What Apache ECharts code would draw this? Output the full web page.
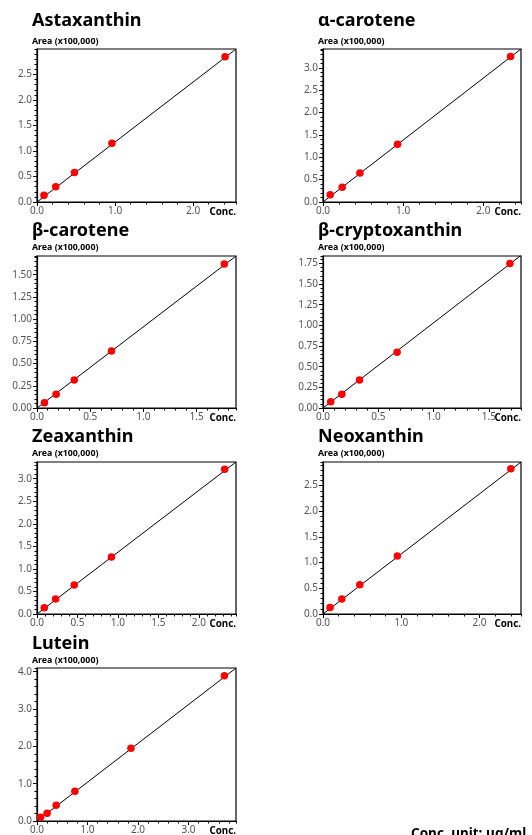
<!DOCTYPE html>
<html><head><meta charset="utf-8">
<script src="https://cdn.jsdelivr.net/npm/echarts@6/dist/echarts.min.js"></script>
<style>html,body{margin:0;padding:0;background:#fff}#c{width:532px;height:835px}</style>
</head><body><div id="c"></div>
<script>
// ---- data ----
const compounds = ['Astaxanthin', 'α-carotene', 'β-carotene', 'β-cryptoxanthin', 'Zeaxanthin', 'Neoxanthin', 'Lutein'];

const concAstaxanthin = [0.09, 0.24, 0.48, 0.96, 2.41];
const areaAstaxanthin = [0.13, 0.30, 0.58, 1.15, 2.85];

const concAlphaCarotene = [0.09, 0.24, 0.46, 0.93, 2.34];
const areaAlphaCarotene = [0.16, 0.33, 0.65, 1.29, 3.25];

const concBetaCarotene = [0.07, 0.18, 0.35, 0.70, 1.76];
const areaBetaCarotene = [0.06, 0.155, 0.315, 0.64, 1.62];

const concBetaCryptoxanthin = [0.07, 0.17, 0.33, 0.67, 1.69];
const areaBetaCryptoxanthin = [0.075, 0.165, 0.34, 0.675, 1.75];

const concZeaxanthin = [0.09, 0.23, 0.46, 0.92, 2.32];
const areaZeaxanthin = [0.14, 0.33, 0.645, 1.265, 3.21];

const concNeoxanthin = [0.09, 0.24, 0.47, 0.95, 2.40];
const areaNeoxanthin = [0.125, 0.29, 0.57, 1.13, 2.83];

const concLutein = [0.07, 0.20, 0.38, 0.75, 1.86, 3.71];
const areaLutein = [0.10, 0.21, 0.42, 0.80, 1.95, 3.89];

const concValues = [concAstaxanthin, concAlphaCarotene, concBetaCarotene, concBetaCryptoxanthin, concZeaxanthin, concNeoxanthin, concLutein];
const areaValues = [areaAstaxanthin, areaAlphaCarotene, areaBetaCarotene, areaBetaCryptoxanthin, areaZeaxanthin, areaNeoxanthin, areaLutein];

// calibration line slopes (area per conc.)
const fitSlopes = [1.176, 1.385, 0.914, 1.032, 1.37, 1.17, 1.04];

// axis ranges and tick steps
const xMaxes = [2.55, 2.47, 1.87, 1.79, 2.46, 2.53, 3.94];
const yMaxes = [3.0, 3.42, 1.71, 1.84, 3.37, 2.96, 4.1];
const xMajorSteps = [1, 1, 0.5, 0.5, 0.5, 1, 1];
const xMinorSteps = [0.2, 0.2, 0.1, 0.1, 0.1, 0.2, 0.2];
const yMajorSteps = [0.5, 0.5, 0.25, 0.25, 0.5, 0.5, 1];
const yMinorSteps = [0.1, 0.1, 0.05, 0.05, 0.1, 0.1, 0.2];
const yDecimals = [1, 1, 2, 2, 1, 1, 1];

const yAxisTitle = 'Area (x100,000)';
const xAxisTitle = 'Conc.';
const unitNote = 'Conc. unit: μg/ml';

// ---- layout ----
const colLeft = [37, 323];
const colWidth = [199, 198];
const rowTop = [49, 256, 462, 668];
const rowHeight = [153, 152, 152, 153];
const titleBase = [27.5, 237.5, 443.5, 650];
const areaBase = [44.8, 250.2, 456.7, 663.3];
const titleX = [32, 318];

const FONT = "'Noto Sans', 'Open Sans', sans-serif";
const grids = [], xAxes = [], yAxes = [], series = [], graphics = [];

function txt(text, x, baseline, size, weight, align, color) {
  graphics.push({
    type: 'text', x: x, y: baseline - 0.36 * size, silent: true,
    style: { text: text, fill: color || '#000', font: weight + ' ' + size + 'px ' + FONT, align: align || 'left', verticalAlign: 'middle' }
  });
}

compounds.forEach(function (name, i) {
  const col = i % 2, row = Math.floor(i / 2);
  const L = colLeft[col], T = rowTop[row], W = colWidth[col], H = rowHeight[row];
  grids.push({ left: L, top: T, width: W, height: H, show: true, borderColor: '#000', borderWidth: 1.2, backgroundColor: 'transparent', containLabel: false, outerBoundsMode: 'none' });
  const labelStyle = { color: '#555', fontSize: 10, fontFamily: FONT };
  xAxes.push({
    type: 'value', gridIndex: i, min: 0, max: xMaxes[i], interval: xMajorSteps[i], position: 'bottom',
    axisLine: { show: true, onZero: false, lineStyle: { color: '#000', width: 1.2 } },
    axisTick: { show: true, length: 4, lineStyle: { color: '#000', width: 1 } },
    axisLabel: Object.assign({ showMaxLabel: false, margin: 4, formatter: function (v) { return v.toFixed(1); } }, labelStyle),
    splitLine: { show: false }
  });
  xAxes.push({
    type: 'value', gridIndex: i, min: 0, max: xMaxes[i], interval: xMinorSteps[i], position: 'bottom',
    axisLine: { show: false, onZero: false }, axisTick: { show: true, length: 2.5, lineStyle: { color: '#000', width: 1 } },
    axisLabel: { show: false }, splitLine: { show: false }
  });
  yAxes.push({
    type: 'value', gridIndex: i, min: 0, max: yMaxes[i], interval: yMajorSteps[i], position: 'left',
    axisLine: { show: true, onZero: false, lineStyle: { color: '#000', width: 1.2 } },
    axisTick: { show: true, length: 4, lineStyle: { color: '#000', width: 1 } },
    axisLabel: Object.assign({ showMaxLabel: false, margin: 5, formatter: function (v) { return v.toFixed(yDecimals[i]); } }, labelStyle),
    splitLine: { show: false }
  });
  yAxes.push({
    type: 'value', gridIndex: i, min: 0, max: yMaxes[i], interval: yMinorSteps[i], position: 'left',
    axisLine: { show: false, onZero: false }, axisTick: { show: true, length: 2.5, lineStyle: { color: '#000', width: 1 } },
    axisLabel: { show: false }, splitLine: { show: false }
  });
  series.push({
    type: 'line', xAxisIndex: 2 * i, yAxisIndex: 2 * i, silent: true, symbol: 'none', clip: true,
    data: [[0, 0], [xMaxes[i], fitSlopes[i] * xMaxes[i]]],
    lineStyle: { color: '#000', width: 1 }, z: 2
  });
  series.push({
    type: 'scatter', xAxisIndex: 2 * i, yAxisIndex: 2 * i, symbolSize: 7.5,
    data: concValues[i].map(function (c, k) { return [c, areaValues[i][k]]; }),
    itemStyle: { color: '#ff0000', opacity: 1 }, z: 3
  });
  txt(name, titleX[col], titleBase[row], 18, 'bold');
  txt(yAxisTitle, titleX[col], areaBase[row], 8.8, 'bold');
  txt(xAxisTitle, L + W, T + H + 13.8, 9.8, 'bold', 'right');
});
txt(unitNote, 411, 839, 13.5, 'bold');

const chart = echarts.init(document.getElementById('c'), null, { renderer: 'canvas' });
chart.setOption({
  animation: false,
  backgroundColor: '#fff',
  grid: grids, xAxis: xAxes, yAxis: yAxes, series: series, graphic: graphics
});
</script></body></html>
